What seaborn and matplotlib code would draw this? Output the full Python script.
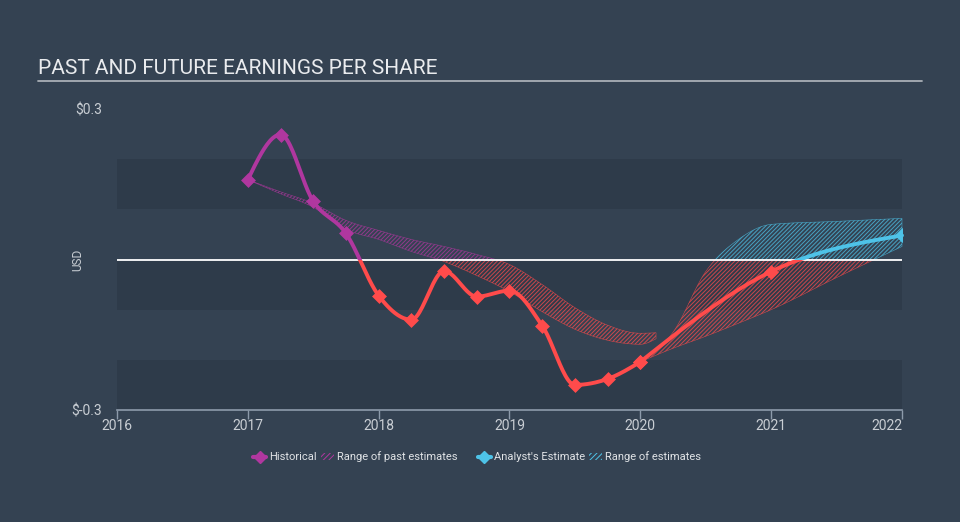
import numpy as np
import pandas as pd
import matplotlib.pyplot as plt
import seaborn as sns
from matplotlib.patches import Rectangle, Patch
from matplotlib.lines import Line2D

sns.set_theme(style="dark")
plt.rcParams['font.family'] = ['Roboto', 'DejaVu Sans']
plt.rcParams['hatch.linewidth'] = 0.7

# --- data ---
hist_x = [2017.0, 2017.25, 2017.5, 2017.75, 2018.0, 2018.25, 2018.5,
          2018.75, 2019.0, 2019.25, 2019.5, 2019.75, 2020.0]
hist_eps = [0.159, 0.249, 0.116, 0.052, -0.072, -0.120, -0.023,
            -0.074, -0.062, -0.132, -0.250, -0.238, -0.204]

fut_x = [2020.0, 2021.0, 2022.0]
fut_eps = [-0.204, -0.024, 0.048]

past_rng_x = [2017.0, 2017.25, 2017.5, 2017.75, 2018.0, 2018.25, 2018.5,
              2018.75, 2019.0, 2019.25, 2019.5, 2019.75, 2020.0, 2020.12]
past_rng_hi = [0.159, 0.135, 0.112, 0.078, 0.058, 0.040, 0.026,
               0.010, -0.010, -0.050, -0.096, -0.131, -0.147, -0.146]
past_rng_lo = [0.159, 0.131, 0.104, 0.060, 0.040, 0.016, -0.004,
               -0.032, -0.064, -0.104, -0.139, -0.161, -0.169, -0.158]

fut_rng_x = [2020.0, 2020.25, 2020.5, 2020.75, 2021.0, 2021.5, 2022.0]
fut_rng_hi = [-0.204, -0.145, -0.024, 0.040, 0.070, 0.076, 0.082]
fut_rng_lo = [-0.204, -0.177, -0.153, -0.127, -0.100, -0.036, 0.026]

years = [2016, 2017, 2018, 2019, 2020, 2021, 2022]

BG = '#344252'
DARK = '#2e3b4a'
PURPLE = '#b0379f'
RED = '#ff4b4b'
BLUE = '#4ec3e8'
TXT = '#c9ced4'
AXIS = '#8d9bab'


def monotone(x, y, n=24):
    """d3 style monotoneX curve through the points (for drawing only)"""
    x = np.asarray(x, float)
    y = np.asarray(y, float)
    h = np.diff(x)
    d = np.diff(y) / h
    m = np.zeros_like(y)
    for k in range(1, len(y) - 1):
        s0, s1 = d[k - 1], d[k]
        p = (s0 * h[k] + s1 * h[k - 1]) / (h[k - 1] + h[k])
        m[k] = (np.sign(s0) + np.sign(s1)) * min(abs(s0), abs(s1), 0.5 * abs(p))
    if len(y) > 2:
        m[0] = (3 * d[0] - m[1]) / 2
        m[-1] = (3 * d[-1] - m[-2]) / 2
    else:
        m[:] = d[0]
    xs, ys = [], []
    for k in range(len(h)):
        t = np.linspace(0, 1, n, endpoint=(k == len(h) - 1))
        h00 = 2 * t**3 - 3 * t**2 + 1
        h10 = t**3 - 2 * t**2 + t
        h01 = -2 * t**3 + 3 * t**2
        h11 = t**3 - t**2
        xs.append(x[k] + t * h[k])
        ys.append(h00 * y[k] + h10 * h[k] * m[k] + h01 * y[k + 1] + h11 * h[k] * m[k + 1])
    return np.concatenate(xs), np.concatenate(ys)


def clip_sign(artist, ax, positive):
    r = Rectangle((2015, 0 if positive else -1), 10, 1, transform=ax.transData)
    artist.set_clip_path(r)


fig = plt.figure(figsize=(9.6, 5.22), dpi=100, facecolor=BG)
ax = fig.add_axes([117 / 960, 1 - 410 / 522, 785 / 960, 301 / 522])
ax.set_facecolor(BG)
ax.set_xlim(2016, 2022)
ax.set_ylim(-0.3, 0.3)

for lo in (0.1, -0.1, -0.3):
    ax.axhspan(lo, lo + 0.1, color=DARK, lw=0, zorder=0)

# hatched ranges, coloured by sign
bands = [(past_rng_x, past_rng_hi, past_rng_lo, PURPLE),
         (fut_rng_x, fut_rng_hi, fut_rng_lo, BLUE)]
for bx, bhi, blo, pos_col in bands:
    sx, shi = monotone(bx, bhi)
    _, slo = monotone(bx, blo)
    for positive, col in ((True, pos_col), (False, RED)):
        pc = ax.fill_between(sx, slo, shi, facecolor='none', edgecolor=col,
                             hatch='////////', lw=0.4, alpha=0.75, zorder=1)
        clip_sign(pc, ax, positive)

ax.axhline(0, color='white', lw=1.3, zorder=2)

# smooth lines
lines = [(hist_x, hist_eps, PURPLE), (fut_x, fut_eps, BLUE)]
for lx, ly, pos_col in lines:
    sx, sy = monotone(lx, ly)
    df = pd.DataFrame({'x': sx, 'y': sy})
    for positive, col in ((True, pos_col), (False, RED)):
        sns.lineplot(data=df, x='x', y='y', sort=False, estimator=None,
                     color=col, lw=2.8, ax=ax, zorder=3)
        clip_sign(ax.lines[-1], ax, positive)

# markers
for lx, ly, pos_col in lines:
    pts = pd.DataFrame({'x': lx, 'y': ly})
    pos = pts[pts['y'] >= 0]
    neg = pts[pts['y'] < 0]
    sns.scatterplot(data=pos, x='x', y='y', marker='D', s=50, color=pos_col,
                    edgecolor=pos_col, linewidth=0.5, ax=ax, zorder=4)
    sns.scatterplot(data=neg, x='x', y='y', marker='D', s=50, color=RED,
                    edgecolor=RED, linewidth=0.5, ax=ax, zorder=4)

# axes styling
ax.set_xlabel('')
ax.set_ylabel('')
for s in ('top', 'right', 'left'):
    ax.spines[s].set_visible(False)
ax.spines['bottom'].set_color(AXIS)
ax.spines['bottom'].set_linewidth(1.2)
ax.set_xticks(years, [str(y) for y in years])
ax.set_yticks([-0.3, 0.3], [r'\$-0.3', r'\$0.3'])
ax.tick_params(axis='x', bottom=True, length=6.5, width=1, color=AXIS,
               labelcolor=TXT, labelsize=10, pad=0)
ax.tick_params(axis='y', left=False, length=0, labelcolor=TXT, labelsize=10, pad=11)
ax.get_xticklabels()[-1].set_ha('right')
ax.grid(False)

# title and underline
fig.text(38 / 960, 1 - 68 / 522, 'PAST AND FUTURE EARNINGS PER SHARE',
         color='#e9ebee', fontsize=15, ha='left', va='center')
fig.add_artist(Line2D([38 / 960, 922 / 960], [1 - 81 / 522] * 2,
                      color='#a9afb6', lw=1.3, transform=fig.transFigure))
fig.text(78 / 960, 1 - 260 / 522, 'USD', rotation=90, color=TXT,
         fontsize=8.5, ha='center', va='center')

handles = [
    Line2D([], [], color=PURPLE, marker='D', markersize=6, lw=3),
    Patch(facecolor='none', edgecolor=PURPLE, hatch='//////', lw=0),
    Line2D([], [], color=BLUE, marker='D', markersize=6, lw=3),
    Patch(facecolor='none', edgecolor=BLUE, hatch='//////', lw=0),
]
labels = ['Historical', 'Range of past estimates      ', "Analyst's Estimate", 'Range of estimates']
leg = fig.legend(handles, labels, loc='center', bbox_to_anchor=(0.497, 1 - 457 / 522),
                 ncol=4, frameon=False, fontsize=8, handlelength=1.2,
                 handletextpad=0.3, columnspacing=0.3, labelcolor='#e0e3e6')

fig.savefig('out.png', dpi=100, facecolor=BG)
